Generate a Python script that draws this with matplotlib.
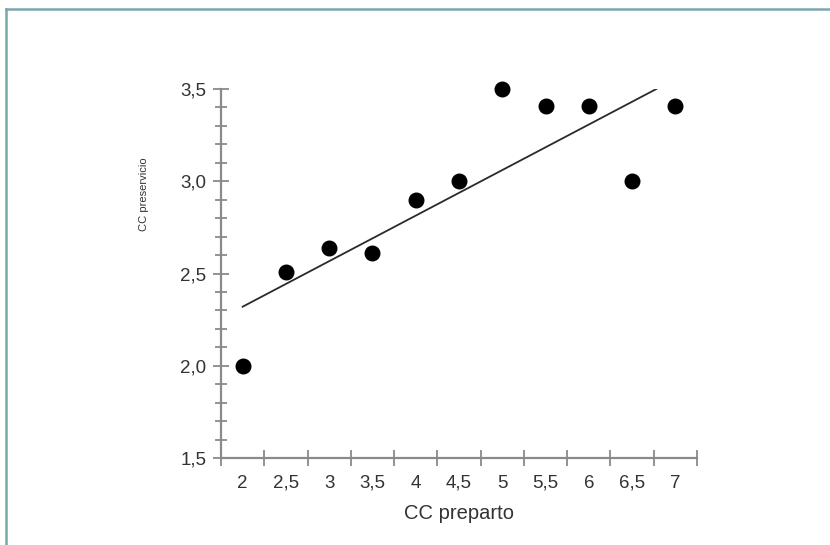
import matplotlib
matplotlib.use("Agg")
import matplotlib.pyplot as plt
from matplotlib.lines import Line2D
import numpy as np

# Data
cc_preparto = [2, 2.5, 3, 3.5, 4, 4.5, 5, 5.5, 6, 6.5, 7]
cc_preservicio = [2.0, 2.51, 2.64, 2.61, 2.9, 3.0, 3.5, 3.41, 3.41, 3.0, 3.41]
x_labels = ["2", "2,5", "3", "3,5", "4", "4,5", "5", "5,5", "6", "6,5", "7"]
y_ticks = [1.5, 2.0, 2.5, 3.0, 3.5]
y_labels = ["1,5", "2,0", "2,5", "3,0", "3,5"]
trend_x = [2.0, 6.78]
trend_y = [2.32, 3.5]

plt.rcParams['font.family'] = ['Liberation Sans', 'DejaVu Sans']

fig = plt.figure(figsize=(8.3, 5.45), dpi=100)
ax = fig.add_axes([221/830, 1-458/545, (697-221)/830, (458-89)/545])

ax.scatter(cc_preparto, cc_preservicio, s=110, color='black', zorder=3, clip_on=False)
ax.plot(trend_x, trend_y, color='#2a2a2a', lw=1.3, zorder=2)

ax.set_xlim(1.75, 7.25)
ax.set_ylim(1.5, 3.5)

gray = '#8a8a8a'
txt = '#333333'
for s in ['top', 'right']:
    ax.spines[s].set_visible(False)
for s in ['left', 'bottom']:
    ax.spines[s].set_color(gray)
    ax.spines[s].set_linewidth(1.6)

# x: ticks at bin edges, labels at centres
edges = np.arange(1.75, 7.26, 0.5)
ax.set_xticks(edges)
ax.set_xticklabels([''] * len(edges))
ax.set_xticks(cc_preparto, minor=True)
ax.set_xticklabels(x_labels, minor=True)
ax.tick_params(axis='x', which='major', direction='inout', length=11, width=1.3, color=gray)
ax.tick_params(axis='x', which='minor', length=0, pad=12, labelsize=13.5, labelcolor=txt)

# y
ax.set_yticks(y_ticks)
ax.set_yticklabels(y_labels)
ax.set_yticks(np.arange(1.5, 3.51, 0.1), minor=True)
ax.tick_params(axis='y', which='major', direction='inout', length=11, width=1.3, color=gray,
               labelsize=13.5, labelcolor=txt, pad=5)
ax.tick_params(axis='y', which='minor', direction='inout', length=9, width=1.3, color=gray)

ax.set_xlabel('CC preparto', fontsize=14.5, color=txt, labelpad=9)
fig.text(144/830, 1-194/545, 'CC preservicio', rotation=90, fontsize=8, color=txt,
         ha='center', va='center')

# frame border (top and left)
fig.add_artist(Line2D([6/830, 6/830], [0, 1-8.5/545], transform=fig.transFigure,
                      color='#7aa7ad', lw=1.8))
fig.add_artist(Line2D([6/830, 1], [1-8.5/545, 1-8.5/545], transform=fig.transFigure,
                      color='#7aa7ad', lw=1.8))

fig.savefig('out.png', dpi=100)
